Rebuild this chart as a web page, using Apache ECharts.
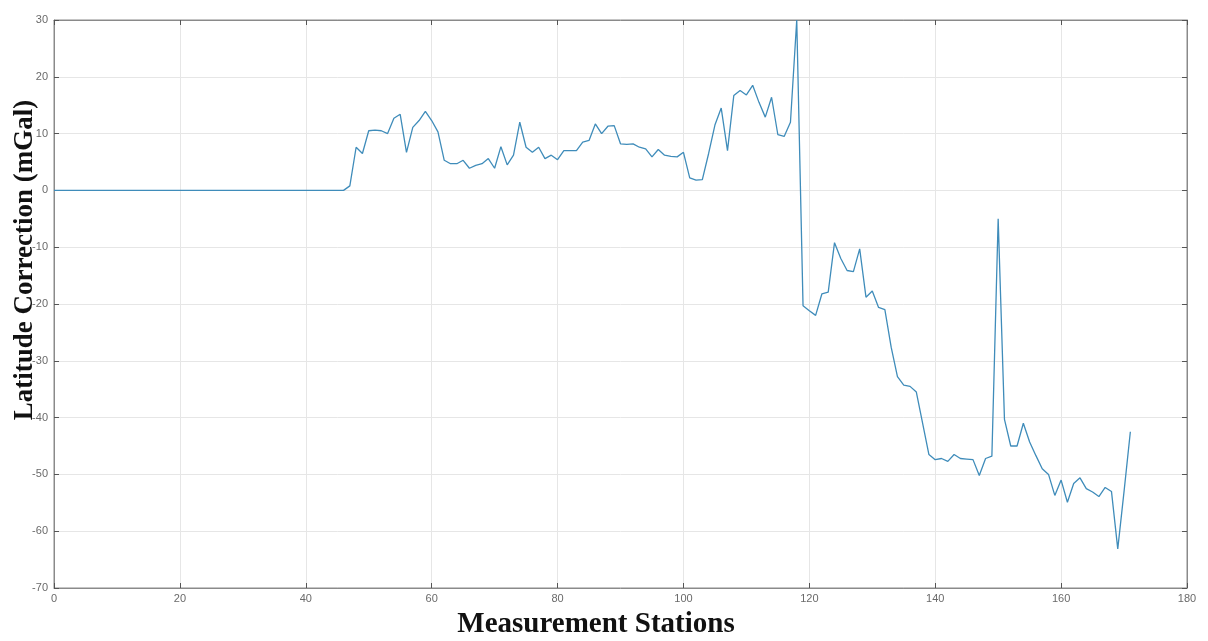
<!DOCTYPE html>
<html>
<head>
<meta charset="utf-8">
<script src="https://cdn.jsdelivr.net/npm/echarts@6/dist/echarts.min.js"></script>
<style>
html,body{margin:0;padding:0;background:#fff;}
#chart{width:1208px;height:641px;}
</style>
</head>
<body>
<div id="chart"></div>
<script>
// Latitude correction (mGal) per measurement station, stations 0..171
const latitudeCorrection = [
  0,0,0,0,0,0,0,0,0,0,
  0,0,0,0,0,0,0,0,0,0,
  0,0,0,0,0,0,0,0,0,0,
  0,0,0,0,0,0,0,0,0,0,
  0,0,0,0,0,0,0,0.8,7.6,6.5,
  10.5,10.6,10.5,10,12.7,13.4,6.7,11.1,12.3,13.9,
  12.3,10.3,5.3,4.7,4.7,5.3,3.9,4.4,4.7,5.6,
  3.9,7.7,4.5,6.2,12,7.6,6.7,7.6,5.6,6.2,
  5.4,7,7,7,8.5,8.8,11.7,10,11.3,11.4,
  8.2,8.1,8.2,7.6,7.3,5.9,7.2,6.2,6,5.9,
  6.7,2.2,1.8,1.9,6.5,11.5,14.5,7,16.7,17.6,
  16.8,18.5,15.5,12.9,16.4,9.8,9.5,12,30,-20.3,
  -21.2,-22,-18.2,-17.9,-9.2,-12,-14.1,-14.3,-10.3,-18.8,
  -17.7,-20.6,-21,-27.6,-32.8,-34.3,-34.5,-35.5,-41,-46.5,
  -47.4,-47.2,-47.7,-46.5,-47.2,-47.3,-47.4,-50.2,-47.2,-46.8,
  -5,-40.3,-45,-45,-41,-44.3,-46.7,-49,-50,-53.7,
  -51,-54.9,-51.6,-50.6,-52.5,-53.1,-53.9,-52.3,-53,-63.1,
  -53,-42.5
];
const xTicks = [0,20,40,60,80,100,120,140,160,180];
const yTicks = [-70,-60,-50,-40,-30,-20,-10,0,10,20,30];
const xTitle = 'Measurement Stations';
const yTitle = 'Latitude Correction (mGal)';

const points = latitudeCorrection.map((v, i) => [i, v]);

const chart = echarts.init(document.getElementById('chart'), null, {renderer: 'canvas'});
const tickLabel = {color: '#6a6a6a', fontSize: 11, fontFamily: 'Liberation Sans, Arial, sans-serif'};
const axisLineStyle = {onZero: false, lineStyle: {color: '#8a8a8a', width: 1}};
const gridLine = {show: true, lineStyle: {color: '#e6e6e6', width: 1}};
const titleFont = 'Liberation Serif, Times New Roman, serif';
chart.setOption({
  animation: false,
  backgroundColor: '#ffffff',
  grid: {left: 54, right: 21, top: 20, bottom: 53, show: true, borderColor: '#8a8a8a', borderWidth: 1,
         containLabel: false, outerBoundsMode: 'none'},
  xAxis: [{
    type: 'value', min: 0, max: 180, interval: 20,
    axisLine: {show: true, ...axisLineStyle},
    axisTick: {show: true, inside: true, length: 5, lineStyle: {color: '#555'}},
    axisLabel: {...tickLabel, margin: 5},
    splitLine: gridLine
  }, {
    type: 'value', min: 0, max: 180, interval: 20, position: 'top',
    axisLine: {show: true, ...axisLineStyle},
    axisTick: {show: true, inside: true, length: 5, lineStyle: {color: '#555'}},
    axisLabel: {show: false}, splitLine: {show: false}
  }],
  yAxis: [{
    type: 'value', min: -70, max: 30, interval: 10,
    axisLine: {show: true, ...axisLineStyle},
    axisTick: {show: true, inside: true, length: 5, lineStyle: {color: '#555'}},
    axisLabel: {...tickLabel, margin: 6},
    splitLine: gridLine
  }, {
    type: 'value', min: -70, max: 30, interval: 10, position: 'right',
    axisLine: {show: true, ...axisLineStyle},
    axisTick: {show: true, inside: true, length: 5, lineStyle: {color: '#555'}},
    axisLabel: {show: false}, splitLine: {show: false}
  }],
  graphic: [{
    type: 'text', x: 596, y: 625, z: 100,
    style: {text: xTitle, font: 'bold 29px ' + titleFont, fill: '#111', align: 'center', verticalAlign: 'middle'}
  }, {
    type: 'text', x: 25, y: 260, rotation: Math.PI / 2, z: 100,
    style: {text: yTitle, font: 'bold 27px ' + titleFont, fill: '#111', align: 'center', verticalAlign: 'middle'}
  }],
  series: [{
    type: 'line', data: points, xAxisIndex: 0, yAxisIndex: 0,
    showSymbol: false, symbol: 'none', smooth: false,
    lineStyle: {color: '#3f8cba', width: 1.3},
    clip: true
  }]
});
</script>
</body>
</html>
